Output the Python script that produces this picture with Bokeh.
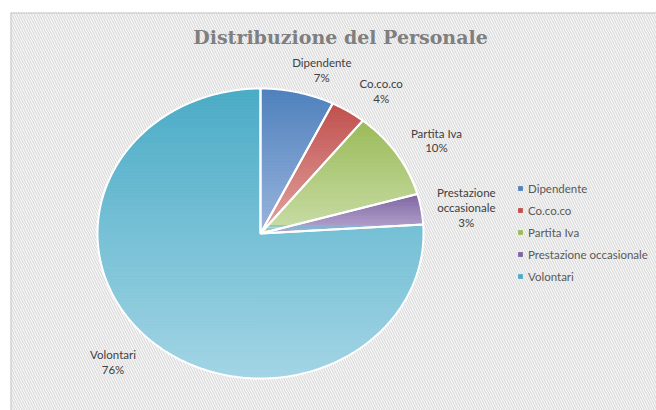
import numpy as np
from bokeh.plotting import figure
from bokeh.models import Range1d, ColumnDataSource, Legend, LegendItem, BoxAnnotation, Span
from bokeh.core.properties import value
from bokeh.embed import file_html
from bokeh.resources import INLINE

# ---------------- data ----------------
title_text = "Distribuzione del Personale"
categories = ["Dipendente", "Co.co.co", "Partita Iva", "Prestazione occasionale", "Volontari"]
label_names = ["Dipendente", "Co.co.co", "Partita Iva", "Prestazione\noccasionale", "Volontari"]
shares = [7.3, 3.5, 9.8, 3.4, 76.0]

# ---------------- style / layout ----------------
top_colors = ["#4F81BD", "#C0504D", "#9BBB59", "#8064A2", "#4BACC6"]
bottom_colors = ["#9AB5DD", "#E3A6A4", "#CADDA8", "#B9ABD1", "#A3D5E5"]
legend_colors = ["#4F81BD", "#C0504D", "#9BBB59", "#8064A2", "#4BACC6"]
label_nudge_px = [(15, 13), (11, 10), (6, 7), (5, 5), (-8, -4)]
LABEL_R = 1.25

CX, CY = 260, 233          # pie centre on the page
RX, RY = 163, 145          # pie radii (px)
FRAME_L, FRAME_T = 10, 12
FRAME_W, FRAME_H = 646, 398

x0 = (FRAME_L - CX) / RX
x1 = (FRAME_L + FRAME_W - CX) / RX
y0 = -(FRAME_T + FRAME_H - CY) / RY
y1 = (CY - FRAME_T) / RY

p = figure(width=FRAME_L + FRAME_W, height=FRAME_T + FRAME_H, title=None,
           x_range=Range1d(x0, x1), y_range=Range1d(y0, y1),
           output_backend="svg", toolbar_location=None,
           x_axis_location=None, y_axis_location=None,
           min_border_left=FRAME_L, min_border_top=FRAME_T,
           min_border_right=0, min_border_bottom=0)
p.grid.visible = False
p.outline_line_color = None
p.background_fill_color = "white"
p.border_fill_color = "white"

# hatched background (extends past the frame so no edge shows)
p.add_layout(BoxAnnotation(left=x0, right=x1 + 1, bottom=y0 - 1, top=y1,
                           fill_color="white", fill_alpha=1.0,
                           hatch_pattern="\\", hatch_color="#dedede",
                           hatch_scale=5, hatch_weight=1.5,
                           line_color=None, level="underlay"))
p.add_layout(Span(location=y1, dimension="width", line_color="#c4c4c4", line_width=2))
p.add_layout(Span(location=x0, dimension="height", line_color="#c4c4c4", line_width=2))

# ---------------- slices ----------------
fr = np.array(shares, dtype=float) / sum(shares)
edges = np.concatenate([[0.0], np.cumsum(fr)]) * 2 * np.pi

slice_xs, slice_ys, mids = [], [], []
for i in range(len(shares)):
    a0, a1 = edges[i], edges[i + 1]
    n = max(3, int(np.degrees(a1 - a0)) + 2)
    ph = np.linspace(a0, a1, n)
    slice_xs.append([0.0] + list(np.sin(ph)))
    slice_ys.append([0.0] + list(np.cos(ph)))
    mids.append((a0 + a1) / 2)


def clip_half(pts, inside, inter):
    out = []
    if not pts:
        return out
    prev = pts[-1]
    for cur in pts:
        if inside(cur):
            if not inside(prev):
                out.append(inter(prev, cur))
            out.append(cur)
        elif inside(prev):
            out.append(inter(prev, cur))
        prev = cur
    return out


def y_inter(yc):
    def f(a, b):
        t = (yc - a[1]) / (b[1] - a[1])
        return (a[0] + t * (b[0] - a[0]), yc)
    return f


def hex2rgb(h):
    h = h.lstrip("#")
    return np.array([int(h[k:k + 2], 16) for k in (0, 2, 4)], dtype=float)


def rgb2hex(c):
    return "#%02x%02x%02x" % tuple(int(round(v)) for v in c)


band_xs, band_ys, band_col = [], [], []
for i in range(len(shares)):
    pts = list(zip(slice_xs[i], slice_ys[i]))
    ymax, ymin = max(slice_ys[i]), min(slice_ys[i])
    nb = max(4, int(np.ceil((ymax - ymin) * RY / 3)))
    c_top, c_bot = hex2rgb(top_colors[i]), hex2rgb(bottom_colors[i])
    for b in range(nb):
        hi = ymax - (ymax - ymin) * b / nb
        lo = ymax - (ymax - ymin) * (b + 1) / nb
        q = clip_half(pts, lambda P: P[1] <= hi, y_inter(hi))
        q = clip_half(q, lambda P: P[1] >= lo, y_inter(lo))
        if len(q) < 3:
            continue
        t = (b + 0.5) / nb
        band_xs.append([P[0] for P in q])
        band_ys.append([P[1] for P in q])
        band_col.append(rgb2hex(c_top + (c_bot - c_top) * t))

base_src = ColumnDataSource(dict(xs=slice_xs, ys=slice_ys, color=legend_colors, name=categories))
base = p.patches("xs", "ys", source=base_src, fill_color="color", line_alpha=0)

p.patches(band_xs, band_ys, fill_color=band_col, line_color=band_col, line_width=0.8)
p.patches(slice_xs, slice_ys, fill_alpha=0, line_color="white", line_width=2)

# ---------------- data labels ----------------
lab_x = [LABEL_R * np.sin(m) for m in mids]
lab_y = [LABEL_R * np.cos(m) for m in mids]
lab_txt = [f"{n}\n{round(s)}%" for n, s in zip(label_names, shares)]
lab_src = ColumnDataSource(dict(x=lab_x, y=lab_y, text=lab_txt,
                                xo=[d[0] for d in label_nudge_px],
                                yo=[d[1] for d in label_nudge_px]))
p.text("x", "y", text="text", source=lab_src, x_offset="xo", y_offset="yo",
       text_font=value("Lato"), text_font_size="11.5px", text_color="#404040",
       text_align="center", text_baseline="middle", text_line_height=1.15)

# ---------------- title ----------------
p.text(x=[(340 - CX) / RX], y=[(CY - 36) / RY], text=[title_text],
       text_font=value("DejaVu Serif"), text_font_style="bold",
       text_font_size="19px", text_color="#7f7f7f",
       text_align="center", text_baseline="middle")

# ---------------- legend ----------------
legend = Legend(items=[LegendItem(label=c, renderers=[base], index=i) for i, c in enumerate(categories)],
                location=(507, 126), orientation="vertical",
                glyph_width=6, glyph_height=6, label_height=16, spacing=6,
                label_standoff=5, padding=0, margin=0,
                border_line_alpha=0, background_fill_alpha=0,
                label_text_font="Lato", label_text_font_size="11.5px",
                label_text_color="#595959")
p.add_layout(legend)

open("out.html", "w").write(file_html(p, INLINE))
